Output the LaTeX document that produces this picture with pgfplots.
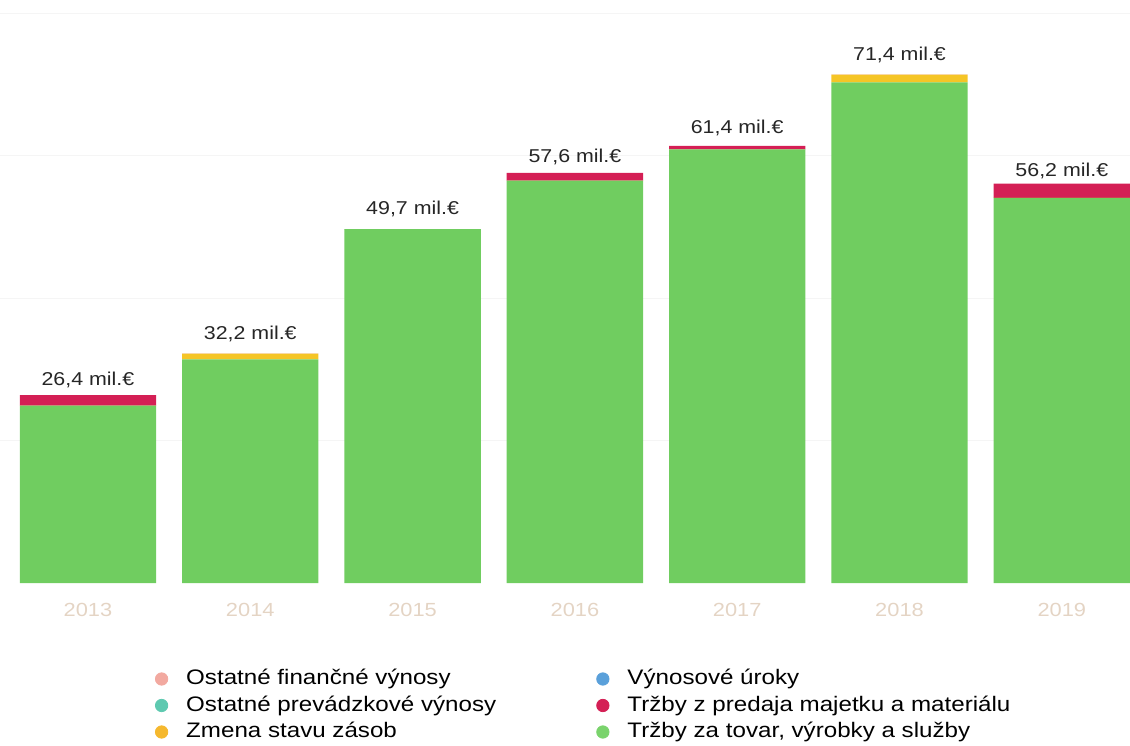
\documentclass[border=0pt]{standalone}
\usepackage{pgfplots}
\pgfplotsset{compat=1.18}
\usepackage{fontspec}
\setmainfont{Liberation Sans}[FakeStretch=1.15]
\definecolor{cgreen}{RGB}{112,205,96}
\definecolor{cred}{RGB}{212,31,85}
\definecolor{cyellow}{RGB}{245,197,38}
\definecolor{lsalmon}{RGB}{242,169,160}
\definecolor{lteal}{RGB}{94,201,176}
\definecolor{lgold}{RGB}{245,184,46}
\definecolor{lblue}{RGB}{90,160,218}
\definecolor{lgreen}{RGB}{122,211,108}
\definecolor{tickc}{RGB}{228,212,196}
\begin{document}
\begin{tikzpicture}
\useasboundingbox (0,-81pt) rectangle (565pt,291.5pt);
\begin{axis}[
  scale only axis,
  width=565pt, height=291.5pt,
  xmin=-0.542, xmax=6.42,
  ymin=0, ymax=81.88,
  ybar stacked,
  bar width=0.84,
  axis line style={draw=none},
  tick style={draw=none},
  xtick={0,...,6},
  xticklabels={2013,2014,2015,2016,2017,2018,2019},
  xticklabel style={font=\fontsize{9.5}{11}\selectfont, text=tickc, anchor=base, inner sep=0pt, yshift=-16.5pt},
  ytick={20,40,60,80},
  yticklabels={},
  ymajorgrids,
  grid style={color=black!4, line width=0.4pt},
  /pgf/number format/assume math mode=true,
  legend columns=2,
  legend cell align=left,
  legend style={draw=none, fill=none, inner sep=0pt, outer sep=0pt,
    at={(0,0)}, anchor=north west, xshift=77.5pt, yshift=-42.75pt,
    font=\fontsize{10.5}{12}\selectfont,
    nodes={inner sep=0pt, text height=8pt, text depth=2.5pt},
    row sep=2.75pt,
    /tikz/every odd column/.append style={column sep=9pt},
    /tikz/every even column/.append style={column sep=50pt}},
  legend image code/.code={\fill[#1] (0pt,0pt) circle (3.1pt);},
]
\addplot[fill=cgreen, draw=none, forget plot] coordinates {
 (0,24.9) (1,31.4) (2,49.7) (3,56.5) (4,60.9) (5,70.3) (6,54.1)};
\addplot[fill=cyellow, draw=none, forget plot] coordinates {
 (0,0.0001) (1,0.8) (2,0.0001) (3,0.0001) (4,0.0001) (5,1.1) (6,0.0001)};
\addplot[fill=cred, draw=none, forget plot,
  point meta=explicit symbolic,
  nodes near coords,
  every node near coord/.append style={font=\fontsize{9.3}{11}\selectfont, text=black!85, anchor=base, inner sep=0pt, yshift=7.2pt}] coordinates {
 (0,1.5) [{26,4 mil.€}] (1,0.0001) [{32,2 mil.€}] (2,0.0001) [{49,7 mil.€}] (3,1.1) [{57,6 mil.€}]
 (4,0.5) [{61,4 mil.€}] (5,0.0001) [{71,4 mil.€}] (6,2.0) [{56,2 mil.€}]};
\addlegendimage{lsalmon}
\addlegendentry{Ostatné finančné výnosy}
\addlegendimage{lblue}
\addlegendentry{Výnosové úroky}
\addlegendimage{lteal}
\addlegendentry{Ostatné prevádzkové výnosy}
\addlegendimage{cred}
\addlegendentry{Tržby z predaja majetku a materiálu}
\addlegendimage{lgold}
\addlegendentry{Zmena stavu zásob}
\addlegendimage{lgreen}
\addlegendentry{Tržby za tovar, výrobky a služby}
\end{axis}
\end{tikzpicture}
\end{document}
